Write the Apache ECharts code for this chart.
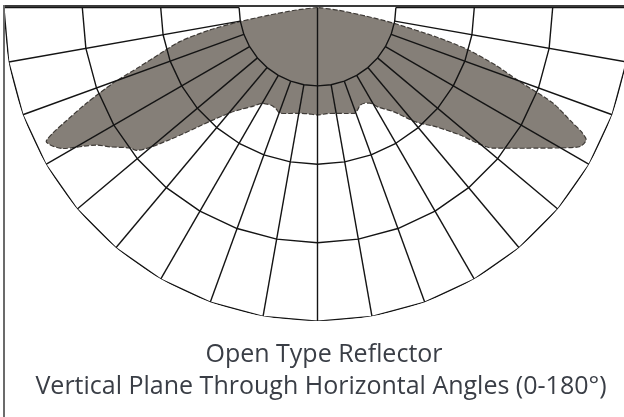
<!DOCTYPE html>
<html>
<head>
<meta charset="utf-8">
<script src="https://cdn.jsdelivr.net/npm/echarts@6/dist/echarts.min.js"></script>
<style>
  html, body { margin: 0; padding: 0; background: #fff; }
  #chart { width: 624px; height: 417px; }
</style>
</head>
<body>
<div id="chart"></div>
<script>
// candela curve (angle from nadir in degrees, radius in grid rings)
var leftAngles = [0, 5, 10, 15, 19.8, 22, 25, 30, 33, 36.5, 39.8, 43.4, 48.2, 51.7, 53.2, 56, 58.1, 61, 62.5, 63.7, 64.6, 65.5, 67.5, 69.7, 71.6, 74, 76.1, 78.2, 79.7, 81.1, 83.3, 86];
var leftValues = [1.37, 1.36, 1.37, 1.40, 1.43, 1.40, 1.38, 1.41, 1.50, 1.61, 1.75, 2.00, 2.53, 2.94, 2.99, 3.18, 3.32, 3.71, 3.82, 3.86, 3.74, 3.56, 3.19, 2.78, 2.39, 2.05, 1.81, 1.41, 1.01, 0.62, 0.27, 0];
var rightAngles = [5, 10, 15, 19.3, 21.5, 23.6, 26.1, 28.7, 31.4, 36, 39.8, 41.5, 44.9, 48.2, 51.3, 56, 59.9, 62.1, 63.8, 64.8, 65.6, 67.9, 70, 72, 74.3, 76, 78.3, 80, 82.5, 85];
var rightValues = [1.36, 1.37, 1.40, 1.43, 1.40, 1.36, 1.36, 1.39, 1.49, 1.64, 1.87, 1.97, 2.15, 2.44, 2.87, 3.21, 3.57, 3.79, 3.82, 3.72, 3.58, 3.24, 2.72, 2.40, 2.00, 1.58, 1.00, 0.62, 0.27, 0];

// grid
var ringValues = [1, 2, 3, 4];
var spokeAngles = [-90, -80, -70, -60, -50, -40, -30, -20, -10, 0, 10, 20, 30, 40, 50, 60, 70, 80, 90];

var titleLines = ['Open Type Reflector', 'Vertical Plane Through Horizontal Angles (0-180\u00b0)'];

var curve = [];
for (var i = leftAngles.length - 1; i >= 0; i--) {
	curve.push([leftValues[i], -leftAngles[i]]);
}
for (var j = 0; j < rightAngles.length; j++) {
	curve.push([rightValues[j], rightAngles[j]]);
}

var series = [{
	type: 'line',
	coordinateSystem: 'polar',
	data: curve,
	symbol: 'none',
	smooth: 0.25,
	silent: true,
	lineStyle: { color: '#3f3b37', width: 1.2, type: [5, 2] },
	areaStyle: { color: '#857f78', opacity: 1 },
	z: 1
}];

ringValues.forEach(function (r) {
	series.push({
		type: 'line',
		coordinateSystem: 'polar',
		data: spokeAngles.map(function (a) { return [r, a]; }),
		symbol: 'none',
		silent: true,
		lineStyle: { color: '#141414', width: 1.4 },
		z: 3
	});
});

spokeAngles.forEach(function (a) {
	series.push({
		type: 'line',
		coordinateSystem: 'polar',
		data: [[a === 0 ? 0 : ringValues[0], a], [ringValues[ringValues.length - 1], a]],
		symbol: 'none',
		silent: true,
		lineStyle: { color: '#141414', width: 1.4 },
		z: 3
	});
});

var chart = echarts.init(document.getElementById('chart'), null, { renderer: 'canvas' });

chart.setOption({
	animation: false,
	polar: { center: [317.5, 7.5], radius: 313.6 },
	angleAxis: {
		type: 'value', min: -180, max: 180, startAngle: 90, clockwise: false,
		axisLine: { show: false }, axisTick: { show: false }, axisLabel: { show: false }, splitLine: { show: false }
	},
	radiusAxis: {
		type: 'value', min: 0, max: 4,
		axisLine: { show: false }, axisTick: { show: false }, axisLabel: { show: false }, splitLine: { show: false }
	},
	series: series,
	graphic: [
		{ type: 'line', shape: { x1: 3, y1: 6, x2: 624, y2: 6 }, style: { stroke: '#3a3a3a', lineWidth: 2 }, z: 10 },
		{ type: 'line', shape: { x1: 4, y1: 5, x2: 4, y2: 417 }, style: { stroke: '#6b6b6b', lineWidth: 2 }, z: 10 },
		{ type: 'text', x: 324, y: 355, style: { text: titleLines[0], fill: '#3a3e46', font: '25px "Open Sans"', textAlign: 'center', textVerticalAlign: 'middle' } },
		{ type: 'text', x: 321, y: 387, style: { text: titleLines[1], fill: '#3a3e46', font: '25px "Open Sans"', textAlign: 'center', textVerticalAlign: 'middle' } }
	]
});
</script>
</body>
</html>
